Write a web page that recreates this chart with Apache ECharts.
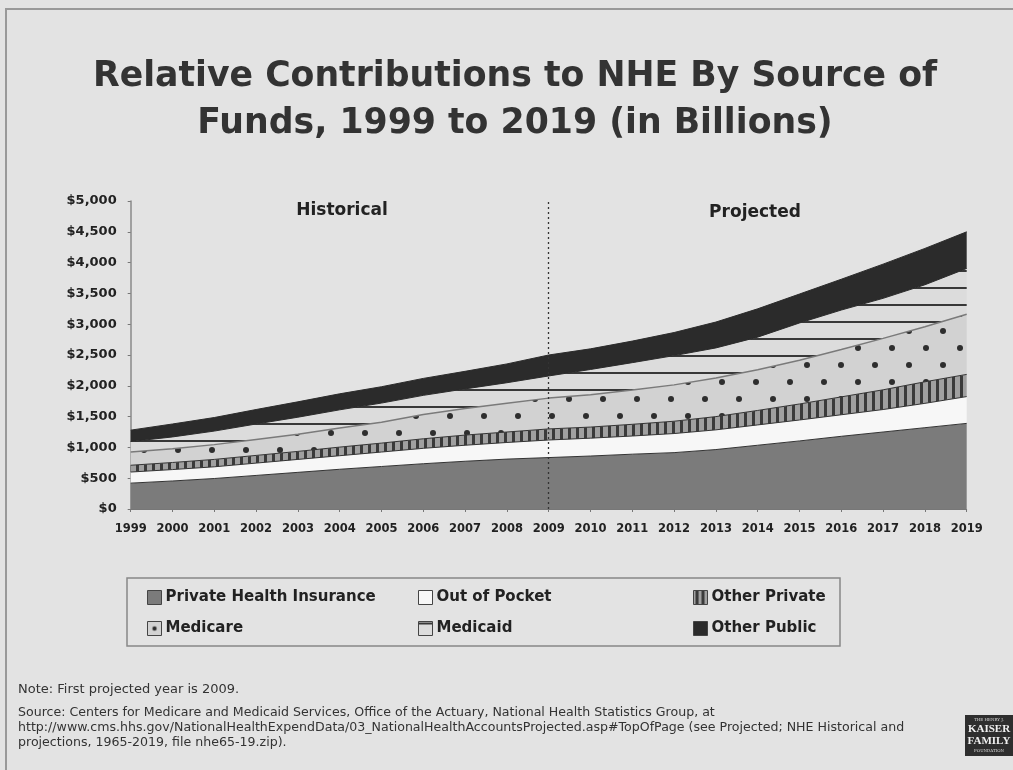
<!DOCTYPE html>
<html>
<head>
<meta charset="utf-8">
<script src="https://cdn.jsdelivr.net/npm/echarts@6/dist/echarts.min.js"></script>
<style>
html,body{margin:0;padding:0;background:#e3e3e3;}
#chart{width:1013px;height:770px;}
</style>
</head>
<body>
<div id="chart"></div>
<script>
// ---- Data (billions of dollars) ----
const years = ['1999','2000','2001','2002','2003','2004','2005','2006','2007','2008','2009','2010','2011','2012','2013','2014','2015','2016','2017','2018','2019'];
const privateHealthInsurance = [420,455,495,545,595,645,690,735,775,810,835,860,890,915,965,1035,1105,1180,1250,1320,1390];
const outOfPocket = [180,185,190,200,210,220,235,250,260,270,285,290,295,310,320,330,340,350,365,395,435];
const otherPrivate = [110,115,120,125,130,140,145,155,165,170,180,180,190,200,215,235,260,290,320,350,360];
const medicare = [215,225,240,260,280,310,340,395,430,465,500,525,556,590,625,660,710,770,835,895,975];
const medicaid = [170,190,220,250,275,295,310,310,320,335,360,410,445,475,490,530,605,640,650,680,745];
const otherPublic = [185,210,220,235,250,260,265,275,285,305,340,335,350,375,420,460,470,500,555,590,595];
const seriesNames = ['Private Health Insurance','Out of Pocket','Other Private','Medicare','Medicaid','Other Public'];
const yMin = 0, yMax = 5000, yStep = 500;
const firstProjectedYear = '2009';

// ---- Fill patterns ----
function tile(w, h, draw) {
  const c = document.createElement('canvas');
  c.width = w; c.height = h;
  draw(c.getContext('2d'));
  return { image: c, repeat: 'repeat' };
}
const stripePattern = tile(8, 8, g => { g.fillStyle = '#a0a0a0'; g.fillRect(0,0,8,8); g.fillStyle = '#3a3a3a'; g.fillRect(0,0,3,8); });
const dotPattern = tile(34, 34, g => {
  g.fillStyle = '#d2d2d2'; g.fillRect(0,0,34,34);
  g.fillStyle = '#2e2e2e';
  g.beginPath(); g.arc(8,8,3,0,Math.PI*2); g.fill();
  g.beginPath(); g.arc(25,25,3,0,Math.PI*2); g.fill();
});
const hlinePattern = tile(8, 17, g => { g.fillStyle = '#dcdcdc'; g.fillRect(0,0,8,17); g.fillStyle = '#383838'; g.fillRect(0,15,8,2); });
const dotLegend = tile(14, 14, g => { g.fillStyle = '#d2d2d2'; g.fillRect(0,0,14,14); g.fillStyle = '#2e2e2e'; g.beginPath(); g.arc(7,7,2.2,0,Math.PI*2); g.fill(); });
const hlineLegend = tile(14, 14, g => { g.fillStyle = '#dcdcdc'; g.fillRect(0,0,14,14); g.fillStyle = '#383838'; g.fillRect(0,1,14,2); });
const stripeLegend = tile(14, 14, g => { g.fillStyle = '#a0a0a0'; g.fillRect(0,0,14,14); g.fillStyle = '#3a3a3a'; g.fillRect(2,0,3,14); g.fillRect(8,0,3,14); });

const fills = ['#7b7b7b', '#f7f7f7', stripePattern, dotPattern, hlinePattern, '#2b2b2b'];
const legendFills = ['#7b7b7b', '#f7f7f7', stripeLegend, dotLegend, hlineLegend, '#2b2b2b'];
const lineColors = ['#333', '#333', '#333', '#7a7a7a', '#2b2b2b', '#2b2b2b'];
const dataSets = [privateHealthInsurance, outOfPocket, otherPrivate, medicare, medicaid, otherPublic];

const FONT = "'DejaVu Sans', Verdana, sans-serif";

const series = seriesNames.map((name, i) => ({
  name: name,
  type: 'line',
  stack: 'total',
  data: dataSets[i],
  symbol: 'none',
  smooth: false,
  lineStyle: { color: lineColors[i], width: i === 3 ? 1.5 : 1 },
  itemStyle: { color: lineColors[i] },
  areaStyle: { color: fills[i], opacity: 1 },
  z: 2,
  markLine: i === 0 ? {
    silent: true, symbol: 'none', label: { show: false },
    lineStyle: { type: [2, 3], color: '#333', width: 1.3 },
    data: [{ xAxis: firstProjectedYear }],
    z: 10
  } : undefined
}));

// legend positions: [left, top]
const legendPos = [[147,590],[418,590],[693,590],[147,621],[418,621],[693,621]];
const legends = seriesNames.map((name, i) => ({
  data: [{ name: name, icon: 'rect', itemStyle: { color: legendFills[i], borderColor: '#444', borderWidth: 1 } }],
  left: legendPos[i][0], top: legendPos[i][1],
  padding: 0, itemWidth: 14, itemHeight: 14, itemGap: 4,
  selectedMode: false,
  textStyle: { fontFamily: FONT, fontWeight: 'bold', fontSize: 15, color: '#222', padding: [0,0,0,-1] }
}));

const noteFont = "13px 'DejaVu Sans'";
const srcFont = "12.6px 'DejaVu Sans'";

const chart = echarts.init(document.getElementById('chart'), null, { renderer: 'canvas' });
chart.setOption({
  backgroundColor: '#e3e3e3',
  animation: false,
  title: {
    text: 'Relative Contributions to NHE By Source of\nFunds, 1999 to 2019 (in Billions)',
    left: 515, top: 53, textAlign: 'center', padding: 0,
    textStyle: { fontFamily: FONT, fontWeight: 'bold', fontSize: 34.7, lineHeight: 47, color: '#333' }
  },
  legend: legends,
  grid: { left: 130.7, right: 46.3, top: 201, bottom: 261, containLabel: false },
  xAxis: {
    type: 'category', data: years, boundaryGap: false,
    axisLine: { lineStyle: { color: '#777', width: 1 } },
    axisTick: { show: true, length: 3, lineStyle: { color: '#777' } },
    axisLabel: { fontFamily: FONT, fontWeight: 'bold', fontSize: 11.5, color: '#222', margin: 14, interval: 0 }
  },
  yAxis: {
    type: 'value', min: yMin, max: yMax, interval: yStep,
    splitLine: { show: false },
    axisLine: { show: true, lineStyle: { color: '#8a8a8a', width: 1.5 } },
    axisTick: { show: true, length: 3, lineStyle: { color: '#777' } },
    axisLabel: {
      fontFamily: FONT, fontWeight: 'bold', fontSize: 13, color: '#222', margin: 14,
      formatter: v => '$' + v.toLocaleString('en-US')
    }
  },
  series: series,
  graphic: [
    { type: 'rect', silent: true, z: -10, shape: { x: 6, y: 9, width: 1100, height: 800 }, style: { fill: 'none', stroke: '#999', lineWidth: 2 } },
    { type: 'text', x: 342, y: 211, style: { text: 'Historical', font: "bold 17px 'DejaVu Sans'", fill: '#222', textAlign: 'center', textVerticalAlign: 'middle' } },
    { type: 'text', x: 755, y: 213, style: { text: 'Projected', font: "bold 17px 'DejaVu Sans'", fill: '#222', textAlign: 'center', textVerticalAlign: 'middle' } },
    { type: 'rect', silent: true, shape: { x: 127, y: 578, width: 713, height: 68 }, style: { fill: 'none', stroke: '#888', lineWidth: 1.5 } },
    { type: 'text', x: 18, y: 690, style: { text: 'Note: First projected year is 2009.', font: noteFont, fill: '#333', textVerticalAlign: 'middle' } },
    { type: 'text', x: 18, y: 713, style: { text: 'Source: Centers for Medicare and Medicaid Services, Office of the Actuary, National Health Statistics Group, at', font: srcFont, fill: '#333', textVerticalAlign: 'middle' } },
    { type: 'text', x: 18, y: 728, style: { text: 'http://www.cms.hhs.gov/NationalHealthExpendData/03_NationalHealthAccountsProjected.asp#TopOfPage (see Projected; NHE Historical and', font: srcFont, fill: '#333', textVerticalAlign: 'middle' } },
    { type: 'text', x: 18, y: 743, style: { text: 'projections, 1965-2019, file nhe65-19.zip).', font: srcFont, fill: '#333', textVerticalAlign: 'middle' } },
    { type: 'rect', shape: { x: 965, y: 715, width: 48, height: 41 }, style: { fill: '#2e2e2e' } },
    { type: 'text', x: 989, y: 720, style: { text: 'THE HENRY J.', font: "4px 'DejaVu Serif'", fill: '#ddd', textAlign: 'center', textVerticalAlign: 'middle' } },
    { type: 'text', x: 989, y: 729, style: { text: 'KAISER', font: "bold 11px 'Liberation Serif'", fill: '#f0f0f0', textAlign: 'center', textVerticalAlign: 'middle' } },
    { type: 'text', x: 989, y: 741, style: { text: 'FAMILY', font: "bold 11px 'Liberation Serif'", fill: '#f0f0f0', textAlign: 'center', textVerticalAlign: 'middle' } },
    { type: 'text', x: 989, y: 751, style: { text: 'FOUNDATION', font: "4px 'DejaVu Serif'", fill: '#ddd', textAlign: 'center', textVerticalAlign: 'middle' } }
  ]
});
</script>
</body>
</html>
